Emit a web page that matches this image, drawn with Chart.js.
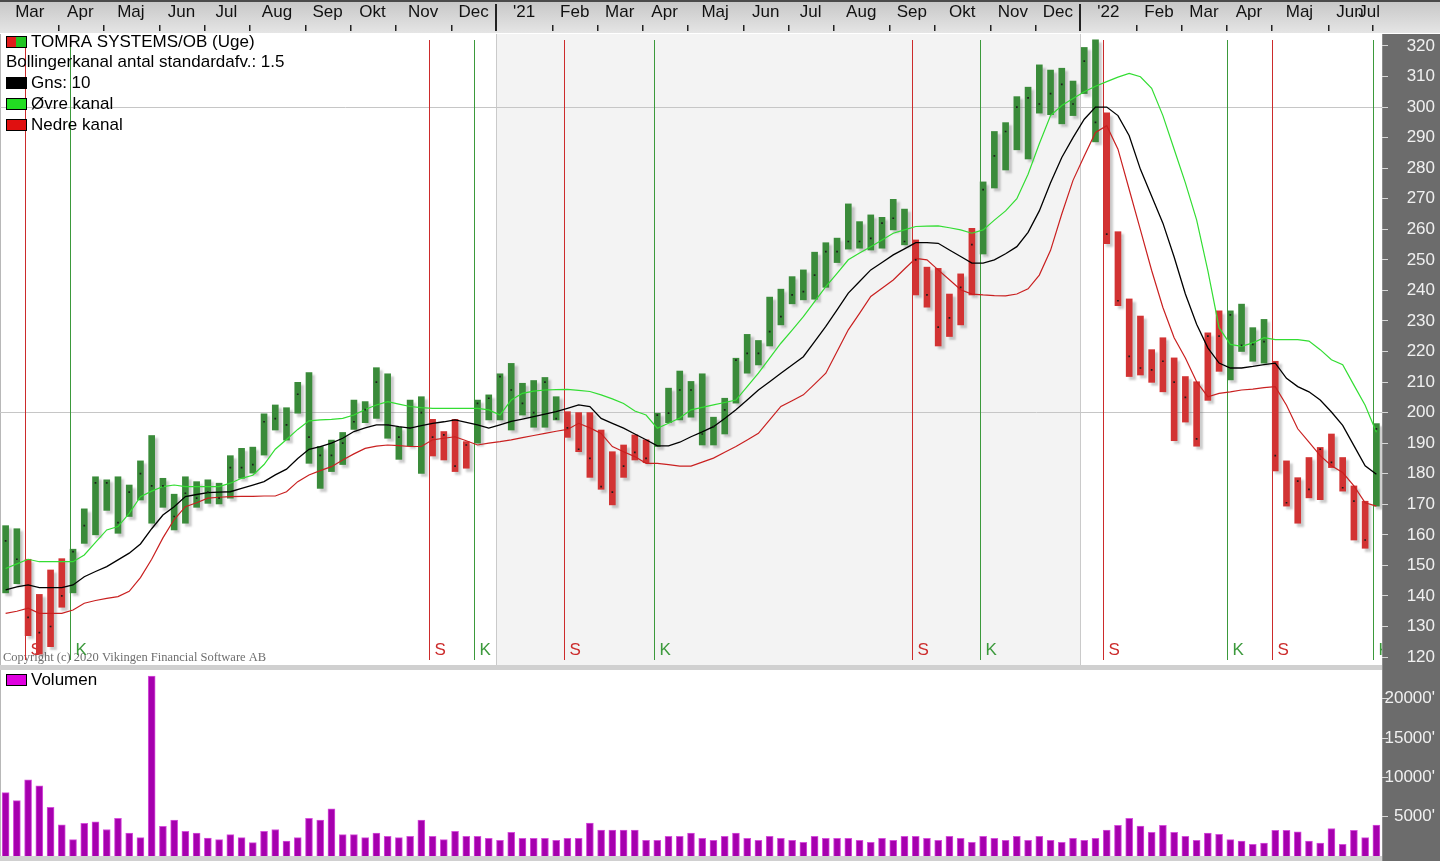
<!DOCTYPE html>
<html lang="da">
  <head>
    <meta charset="UTF-8" />
    <title>TOMRA SYSTEMS/OB (Uge)</title>
    <script src="https://cdn.jsdelivr.net/npm/chart.js"></script>
    <style>
      body {
        margin: 0;
        width: 1440px;
        height: 861px;
        overflow: hidden;
        background: #ffffff;
        position: relative;
        font-family: "Liberation Sans", Arial, sans-serif;
      }
      #priceChart {
        position: absolute;
        left: 0;
        top: 0;
      }
      #volumeChart {
        position: absolute;
        left: 0;
        top: 668px;
      }
    </style>
  </head>
  <body>
    <canvas id="priceChart" width="1440" height="668"></canvas>
    <canvas id="volumeChart" width="1440" height="193"></canvas>

    <script>
      // Month header (tick labels) and the week index where each month starts
      const monthLabels = ["Mar", "Apr", "Maj", "Jun", "Jul", "Aug", "Sep", "Okt", "Nov", "Dec", "'21",
        "Feb", "Mar", "Apr", "Maj", "Jun", "Jul", "Aug", "Sep", "Okt", "Nov", "Dec", "'22",
        "Feb", "Mar", "Apr", "Maj", "Jun", "Jul"];
      const monthStart = [0, 5, 9, 14, 18, 22, 27, 31, 35, 40, 44,
        49, 53, 57, 61, 66, 70, 74, 79, 83, 88, 92, 96,
        101, 105, 109, 113, 118, 122];

      const priceTicks = [120, 130, 140, 150, 160, 170, 180, 190, 200, 210, 220,
        230, 240, 250, 260, 270, 280, 290, 300, 310, 320];
      const volumeTicks = [5000, 10000, 15000, 20000];

      // Weekly high / low / close
      const highs = [
        163, 162, 152, 140.5, 148.5, 152.2, 155.3, 168.5, 179, 178,
        179, 176.3, 184.2, 192.5, 178.5, 173.3, 179, 177.4, 178, 176.9,
        185.9, 188.3, 188.7, 199.6, 202.5, 201.6, 209.9, 213.1, 188.9, 191,
        193.5, 204.1, 203.6, 214.7, 212.7, 195.2, 204.1, 205.2, 197.8, 193.8,
        197.8, 190.5, 204.1, 205.8, 212.7, 216.1, 209.6, 210.5, 211.5, 205.2,
        200.3, 200, 200, 194.3, 187.2, 189.4, 192.7, 191.1, 199.8, 208,
        213.6, 210.2, 212.7, 198.5, 204.7, 217.8, 225.6, 223.6, 237.8, 240.4,
        244.5, 246.7, 252.5, 255.6, 257.1, 268.3, 262.5, 264.7, 263.9, 269.8,
        266.6, 256.5, 247.6, 247.2, 238.8, 245.4, 260.3, 275.5, 292, 294.9,
        303.4, 306.5, 313.8, 312.1, 312.7, 308.5, 319.5, 322, 298.1, 259.2,
        237.2, 231.6, 220.6, 224.5, 217.9, 211.8, 210.1, 226.1, 233.3, 233.3,
        235.5, 227.8, 230.5, 216.8, 184.2, 178.7, 185.3, 188.6, 193, 185.3,
        176, 171, 196.4
      ];
      const lows = [
        141, 144, 127, 121, 123.4, 136.3, 141, 157.2, 160, 168,
        160.5, 166, 171.4, 163.8, 169, 161.6, 163.8, 169, 170.3, 170.1,
        172, 178.5, 180.2, 186.1, 194.3, 191, 199.8, 183.4, 175.2, 180.7,
        183, 194.5, 196.7, 198.1, 191.6, 184.7, 189.1, 180.1, 185.8, 184.5,
        180.7, 181.8, 190, 197.6, 197.6, 194.3, 199.2, 195.2, 195.2, 197.6,
        191.9, 187.2, 178.8, 174.9, 169.8, 178.8, 184.5, 183.6, 188.9, 196.7,
        197.6, 198.5, 189.4, 189.4, 193, 203.1, 212.9, 215.6, 221.8, 228.7,
        235.6, 236.9, 237.1, 241, 249.1, 253.5, 253.8, 253.2, 253.8, 259.8,
        254.9, 238.5, 234.5, 221.8, 224.9, 228.7, 238.5, 251.9, 273.5, 279.4,
        286, 283, 298, 297.5, 294.5, 297.2, 304.4, 288.6, 255.3, 235,
        211.8, 212.3, 209.9, 206.8, 190.8, 196.9, 189, 204, 213.5, 210.7,
        220, 216.8, 216.2, 180.9, 169.4, 163.8, 172.1, 171.5, 182, 174.3,
        158.3, 155.6, 169.4
      ];
      const closes = [
        158, 152, 133, 128, 130, 140, 154.5, 163, 177, 177,
        164, 174, 180, 176, 176, 166, 173.6, 172, 174, 172,
        182, 182, 183, 197, 198, 196, 206, 192, 186, 186,
        190, 197, 201, 210, 196, 192, 195, 200, 192, 192.7,
        182.5, 189.4, 203, 204.7, 211.8, 207.4, 203, 200, 210, 198,
        195, 188, 185, 175.8, 174, 182.5, 187, 185, 199.2, 199.8,
        207.4, 207.4, 193, 195.4, 200.9, 217.2, 219.4, 219.4, 226.5, 231.4,
        238.5, 239.6, 245, 252.7, 252.7, 256, 256, 257, 262, 263.6,
        256, 250, 238.5, 228, 231, 241, 255, 273, 284, 292,
        300, 303, 301, 304.4, 307.4, 301, 315, 295, 258.4, 236.6,
        218.4, 214.6, 214, 216.8, 210, 205, 191.4, 225, 225, 232,
        222, 222.3, 223.2, 185.9, 170.5, 177.6, 174.9, 188, 183.7, 175.4,
        171, 158.3, 194.7
      ];

      // Bollinger channel (10 weeks, 1.5 std.dev.)
      const midBand = [
        142, 143, 143.6, 142.7, 142.7, 142.7, 143.6, 146.3, 148, 149.6,
        151.8, 154, 157, 162, 166.5, 169.2, 172.5, 173.2, 173.8, 174,
        174.1, 175.2, 176.3, 177.4, 179.6, 181.5, 185, 188, 188.9, 190,
        191.6, 193.8, 195, 196, 196, 195.4, 194.9, 195.7, 196.5, 197,
        197.6, 196.8, 196, 194.9, 196, 197.1, 197.9, 198.7, 199.5, 200.3,
        201.4, 202.5, 202, 198.1, 196.5, 194.9, 193, 191.1, 189.1, 189.1,
        190.3, 192.1, 193.7, 195.4, 198.1, 200.9, 204.1, 207.4, 210.1, 212.9,
        215.6, 218.3, 223.2, 228.2, 233.6, 239.1, 242.9, 246.7, 249.1, 251.6,
        253.6, 255.6, 255.6, 255.4, 253.2, 251.1, 248.9, 248.9, 250, 252,
        254.3, 259, 266, 275.2, 283.5, 290, 296, 300, 300, 297.2,
        290.6, 279.6, 270.8, 262, 250.9, 238.8, 228.9, 221.2, 216.2, 214.6,
        214.6, 215.1, 215.7, 216.2, 211.2, 208.5, 206.8, 204.1, 200.2, 195.8,
        189.2, 182.6, 179.8
      ];
      const upperBand = [
        149, 150.5, 152, 151.2, 151.2, 151.2, 151.2, 153.4, 157.5, 161.6,
        162.7, 167, 172.5, 174.3, 175.8, 176.3, 175.8, 175.8, 175.8, 175.8,
        176.9, 178.5, 179.5, 183, 188, 191.2, 194.5, 197.3, 197.6, 197.8,
        198.1, 199.2, 201, 202.5, 203.6, 202.8, 202, 201.6, 201.4, 201.4,
        201.4, 201.4, 201.4, 200.9, 199.2, 204.1, 206.3, 207, 207.4, 207.5,
        207.6, 207.3, 206.9, 205.8, 204.5, 203, 200.5, 199.2, 194.9, 196.5,
        198.2, 200.9, 201.7, 202.5, 203.3, 204.1, 208.5, 212.9, 217.8, 222.7,
        227, 231.4, 236.3, 241.2, 245.6, 250, 252.2, 254.3, 256.5, 258.7,
        259.8, 260.9, 261, 261.1, 260.5, 259.8, 258.7, 259.8, 263, 266,
        270, 278, 288, 297.2, 300.5, 302.8, 305, 306.8, 308.3, 309.8,
        311, 309.9, 306.1, 297.2, 286.2, 275.2, 263.1, 246.5, 227.8, 222.3,
        221.7, 222.8, 224.5, 223.9, 223.9, 223.9, 223.4, 220.6, 217.3, 215.7,
        209, 202.4, 193.6
      ];
      const lowerBand = [
        134.3, 135, 136, 134.3, 134.3, 134.3, 135.4, 137.6, 138.5, 139.2,
        139.8, 141.5, 146, 152, 159, 165, 169.2, 170.5, 172, 172.3,
        172.5, 172.6, 172.6, 172.7, 172.7, 174.1, 177.4, 179.6, 181, 182.3,
        184.5, 186.5, 188.3, 189, 189.4, 189.2, 188.9, 188.9, 191.1, 191.6,
        192.1, 190.8, 189.4, 190, 190.5, 191.1, 191.8, 192.5, 193.2, 193.9,
        194.5, 196.5, 195, 193.2, 188.9, 187.2, 185.6, 183.4, 183.4, 183,
        182.5, 182.5, 183.8, 185.1, 187, 188.9, 191, 193.2, 197.6, 202,
        203.9, 205.8, 209.3, 212.9, 220, 227.1, 232.5, 238, 240.7, 243.4,
        247, 250.5, 250, 246.7, 243.5, 240.2, 238.8, 238.5, 238.3, 238.2,
        238.8, 240.5, 245, 253.1, 265, 276, 284, 291.7, 293.9, 286.2,
        273, 259.8, 246.5, 234.4, 224.5, 217.9, 210.1, 205.2, 206.3, 206.8,
        207.4, 207.7, 208.2, 208.5, 202.4, 194.7, 190.3, 185.9, 182.6, 180.4,
        176, 170.5, 169.4
      ];

      // Weekly volume
      const volumes = [
        8070, 7040, 9700, 8930, 6190, 3960, 2080, 4140, 4350, 3370,
        4780, 2930, 2340, 22900, 3790, 4560, 3150, 2930, 2290, 2080,
        2720, 2340, 1700, 3150, 3370, 1900, 2340, 4780, 4560, 6010,
        2720, 2720, 2340, 2930, 2510, 2340, 2510, 4560, 2510, 2080,
        3150, 2510, 2510, 2250, 2000, 3000, 2250, 2250, 2250, 2000,
        2250, 2250, 4200, 3300, 3300, 3300, 3300, 2000, 2000, 2500,
        2500, 2900, 2250, 2000, 2500, 2900, 2250, 2000, 2500, 2250,
        2000, 1730, 2500, 2250, 2250, 2250, 2000, 1730, 2250, 2000,
        2500, 2500, 2250, 2000, 2500, 2250, 1730, 2500, 2250, 2000,
        2500, 2000, 2500, 2000, 1730, 2250, 2000, 2250, 3300, 3900,
        4800, 3800, 3000, 3900, 3000, 2500, 2000, 2930, 2760, 2080,
        1900, 1480, 1650, 3280, 3280, 3060, 1900, 1650, 3500, 1480,
        3280, 2340, 3920
      ];

      // Sell (S) / buy (K) signals, by week index
      const signalWeek = [2, 6, 38, 42, 50, 58, 81, 87, 98, 109, 113, 122];
      const signalType = ["S", "K", "S", "K", "S", "K", "S", "K", "S", "K", "S", "K"];

      const weeks = highs.map((_, i) => "Uge " + (i + 1));

      const GREEN = "#3a8b3a";
      const RED = "#d23333";
      const FONT = "'Liberation Sans', Arial, sans-serif";

      // bar colour follows the latest signal
      const barColors = highs.map((_, i) => {
        let t = "K";
        signalWeek.forEach((w, k) => {
          if (w <= i) t = signalType[k];
        });
        return t === "S" ? RED : GREEN;
      });

      const px = (chart, v) => chart.scales.x.getPixelForValue(v);

      // keep scale label padding from shrinking the plot area
      const noPad = (s) => {
        s.paddingTop = 0;
        s.paddingBottom = 0;
        s.paddingLeft = 0;
        s.paddingRight = 0;
      };

      function drawLegendRow(ctx, y, text, icon) {
        ctx.textBaseline = "middle";
        ctx.textAlign = "left";
        ctx.font = "17px " + FONT;
        ctx.fillStyle = "#000";
        if (!icon) {
          ctx.fillText(text, 6, y);
          return;
        }
        const w = 20 / icon.length;
        icon.forEach((c, k) => {
          ctx.fillStyle = c;
          ctx.fillRect(6 + k * w, y - 5, w, 10);
        });
        ctx.strokeStyle = "#000";
        ctx.lineWidth = 1;
        ctx.strokeRect(6.5, y - 5.5, 20, 11);
        ctx.fillStyle = "#000";
        ctx.fillText(text, 31, y);
      }

      const pricePlugin = {
        id: "priceBoard",
        beforeDraw(chart) {
          const { ctx, chartArea: a, width, height } = chart;
          ctx.save();
          ctx.fillStyle = "#ffffff";
          ctx.fillRect(0, 0, width, height);

          // 2021 shading
          const s1 = px(chart, monthStart[monthLabels.indexOf("'21")] - 0.35);
          const s2 = px(chart, monthStart[monthLabels.indexOf("'22")] - 0.35);
          ctx.fillStyle = "#f3f3f3";
          ctx.fillRect(s1, a.top, s2 - s1, a.bottom - a.top);
          ctx.fillStyle = "#cacaca";
          ctx.fillRect(Math.round(s1), a.top, 1, a.bottom - a.top);
          ctx.fillRect(Math.round(s2), a.top, 1, a.bottom - a.top);

          // month header
          const g = ctx.createLinearGradient(0, 0, 0, a.top);
          g.addColorStop(0, "#c6c6c6");
          g.addColorStop(1, "#e6e6e6");
          ctx.fillStyle = g;
          ctx.fillRect(0, 0, width, a.top - 1);
          ctx.fillStyle = "#4a4a4a";
          ctx.fillRect(0, 0, width, 2);

          const ticksPx = monthStart.map((m) => px(chart, m - 0.35));
          ctx.font = "17px " + FONT;
          ctx.textBaseline = "middle";
          ctx.textAlign = "center";
          monthLabels.forEach((lab, k) => {
            const x = Math.round(ticksPx[k]);
            const isYear = lab.startsWith("'");
            ctx.fillStyle = "#222";
            if (isYear) ctx.fillRect(x - 1, 4, 2, 27);
            else if (k > 0) ctx.fillRect(x, 25, 1.5, 6);
            const end = k + 1 < ticksPx.length ? ticksPx[k + 1] : a.right;
            const w = ctx.measureText(lab).width;
            let cx = (ticksPx[k] + end) / 2;
            cx = Math.min(cx, a.right - w / 2 - 2);
            cx = Math.max(cx, w / 2 + 4);
            ctx.fillStyle = "#111";
            ctx.fillText(lab, cx, 12);
          });

          // right axis panel and panel separator
          ctx.fillStyle = "#6c6c6c";
          ctx.fillRect(a.right, a.top, width - a.right, height - a.top);
          ctx.fillStyle = "#8c8c8c";
          ctx.fillRect(a.right, a.top, 1, height - a.top);
          ctx.fillStyle = "#d0d0d0";
          ctx.fillRect(0, a.bottom, a.right, height - a.bottom);
          ctx.fillStyle = "#b8b8b8";
          ctx.fillRect(0, a.top, 1, a.bottom - a.top);
          ctx.restore();
        },
        beforeDatasetsDraw(chart) {
          const { ctx, chartArea: a } = chart;
          ctx.save();
          ctx.beginPath();
          ctx.rect(a.left, a.top, a.right - a.left, a.bottom - a.top);
          ctx.clip();

          ctx.font = "12.5px 'Liberation Serif', 'Times New Roman', serif";
          ctx.fillStyle = "#6e6e6e";
          ctx.textAlign = "left";
          ctx.textBaseline = "middle";
          ctx.fillText("Copyright (c) 2020 Vikingen Financial Software AB", 3, a.bottom - 7);

          signalWeek.forEach((w, k) => {
            const x = Math.round(px(chart, w - 0.3)) + 0.5;
            const col = signalType[k] === "S" ? "#cc2b2b" : "#3b993b";
            ctx.strokeStyle = col;
            ctx.lineWidth = 1;
            ctx.beginPath();
            ctx.moveTo(x, a.top + 6);
            ctx.lineTo(x, a.bottom - 5);
            ctx.stroke();
            ctx.fillStyle = col;
            ctx.font = "17px " + FONT;
            ctx.fillText(signalType[k], x + 5, a.bottom - 15);
          });
          ctx.restore();
        },
        beforeDatasetDraw(chart, args) {
          if (args.meta.type !== "bar") return;
          const ctx = chart.ctx;
          ctx.save();
          ctx.shadowColor = "rgba(110, 110, 110, 0.35)";
          ctx.shadowOffsetX = 3;
          ctx.shadowOffsetY = 3;
          ctx.shadowBlur = 2;
        },
        afterDatasetDraw(chart, args) {
          if (args.meta.type !== "bar") return;
          chart.ctx.restore();
        },
        afterDraw(chart) {
          const ctx = chart.ctx;
          ctx.save();
          drawLegendRow(ctx, 42, "TOMRA SYSTEMS/OB (Uge)", ["#e01c1c", "#22c422"]);
          drawLegendRow(ctx, 62, "Bollingerkanal antal standardafv.: 1.5", null);
          drawLegendRow(ctx, 83, "Gns: 10", ["#000000"]);
          drawLegendRow(ctx, 104, "Øvre kanal", ["#22dd22"]);
          drawLegendRow(ctx, 125, "Nedre kanal", ["#e01010"]);
          ctx.restore();
        },
      };

      const volumePlugin = {
        id: "volumeBoard",
        beforeDraw(chart) {
          const { ctx, chartArea: a, width, height } = chart;
          ctx.save();
          ctx.fillStyle = "#ffffff";
          ctx.fillRect(0, 0, width, height);
          ctx.fillStyle = "#d0d0d0";
          ctx.fillRect(0, 0, a.right, a.top);
          ctx.fillRect(0, a.bottom, a.right, height - a.bottom);
          ctx.fillStyle = "#b8b8b8";
          ctx.fillRect(0, a.top, 1, a.bottom - a.top);
          ctx.fillStyle = "#6c6c6c";
          ctx.fillRect(a.right, 0, width - a.right, height);
          ctx.fillStyle = "#8c8c8c";
          ctx.fillRect(a.right, 0, 1, height);
          ctx.restore();
        },
        afterDraw(chart) {
          const ctx = chart.ctx;
          ctx.save();
          drawLegendRow(ctx, 12, "Volumen", ["#e000e0"]);
          ctx.restore();
        },
      };

      Chart.defaults.font.family = FONT;

      const priceChart = new Chart(document.getElementById("priceChart"), {
        type: "bar",
        data: {
          labels: weeks,
          datasets: [
            {
              type: "line",
              label: "Luk",
              data: closes,
              showLine: false,
              pointStyle: "rect",
              pointRadius: 1.2,
              pointHoverRadius: 0,
              pointBorderWidth: 0,
              pointBackgroundColor: "#1c1c1c",
              order: 1,
            },
            {
              type: "line",
              label: "Gns: 10",
              data: midBand,
              borderColor: "#000000",
              borderWidth: 1.3,
              pointRadius: 0,
              pointHoverRadius: 0,
              fill: false,
              order: 2,
            },
            {
              type: "line",
              label: "Øvre kanal",
              data: upperBand,
              borderColor: "#33dd33",
              borderWidth: 1.2,
              pointRadius: 0,
              pointHoverRadius: 0,
              fill: false,
              order: 2,
            },
            {
              type: "line",
              label: "Nedre kanal",
              data: lowerBand,
              borderColor: "#c92020",
              borderWidth: 1.2,
              pointRadius: 0,
              pointHoverRadius: 0,
              fill: false,
              order: 2,
            },
            {
              type: "bar",
              label: "TOMRA SYSTEMS/OB",
              data: highs.map((h, i) => [lows[i], h]),
              backgroundColor: barColors,
              borderWidth: 0,
              barThickness: 6,
              order: 3,
            },
          ],
        },
        options: {
          responsive: false,
          animation: false,
          devicePixelRatio: 1,
          layout: { autoPadding: false, padding: { left: 0, right: 5, top: 0, bottom: 3 } },
          plugins: { legend: { display: false }, tooltip: { enabled: false } },
          scales: {
            x: {
              position: "top",
              offset: true,
              grid: { display: false },
              ticks: { display: false },
              border: { display: false },
              afterFit: (s) => {
                s.height = 34;
                noPad(s);
              },
            },
            y: {
              position: "right",
              min: 117.4,
              max: 323.9,
              afterBuildTicks: (s) => {
                s.ticks = priceTicks.map((v) => ({ value: v }));
              },
              afterFit: (s) => {
                s.width = 53;
                noPad(s);
              },
              border: { display: false },
              grid: {
                color: (c) =>
                  c.tick && c.tick.value % 100 === 0 ? "#c6c6c6" : "rgba(0,0,0,0)",
                tickColor: "#d6d6d6",
                tickLength: 6,
                lineWidth: 1,
              },
              ticks: {
                color: "#f0f0f0",
                font: { size: 17 },
                crossAlign: "far",
                padding: 2,
              },
            },
          },
        },
        plugins: [pricePlugin],
      });

      const volumeChart = new Chart(document.getElementById("volumeChart"), {
        type: "bar",
        data: {
          labels: weeks,
          datasets: [
            {
              label: "Volumen",
              data: volumes,
              backgroundColor: "#a600ae",
              borderColor: "#d650dc",
              borderWidth: 1,
              barThickness: 7,
            },
          ],
        },
        options: {
          responsive: false,
          animation: false,
          devicePixelRatio: 1,
          layout: { autoPadding: false, padding: { left: 0, right: 5, top: 2, bottom: 5 } },
          plugins: { legend: { display: false }, tooltip: { enabled: false } },
          scales: {
            x: {
              display: false,
              offset: true,
              afterFit: noPad,
            },
            y: {
              position: "right",
              min: 0,
              max: 23660,
              afterBuildTicks: (s) => {
                s.ticks = volumeTicks.map((v) => ({ value: v }));
              },
              afterFit: (s) => {
                s.width = 53;
                noPad(s);
              },
              border: { display: false },
              grid: {
                drawOnChartArea: false,
                tickColor: "#d6d6d6",
                tickLength: 6,
              },
              ticks: {
                color: "#f0f0f0",
                font: { size: 17 },
                crossAlign: "far",
                padding: 0,
                callback: (v) => v + "'",
              },
            },
          },
        },
        plugins: [volumePlugin],
      });
    </script>
  </body>
</html>
